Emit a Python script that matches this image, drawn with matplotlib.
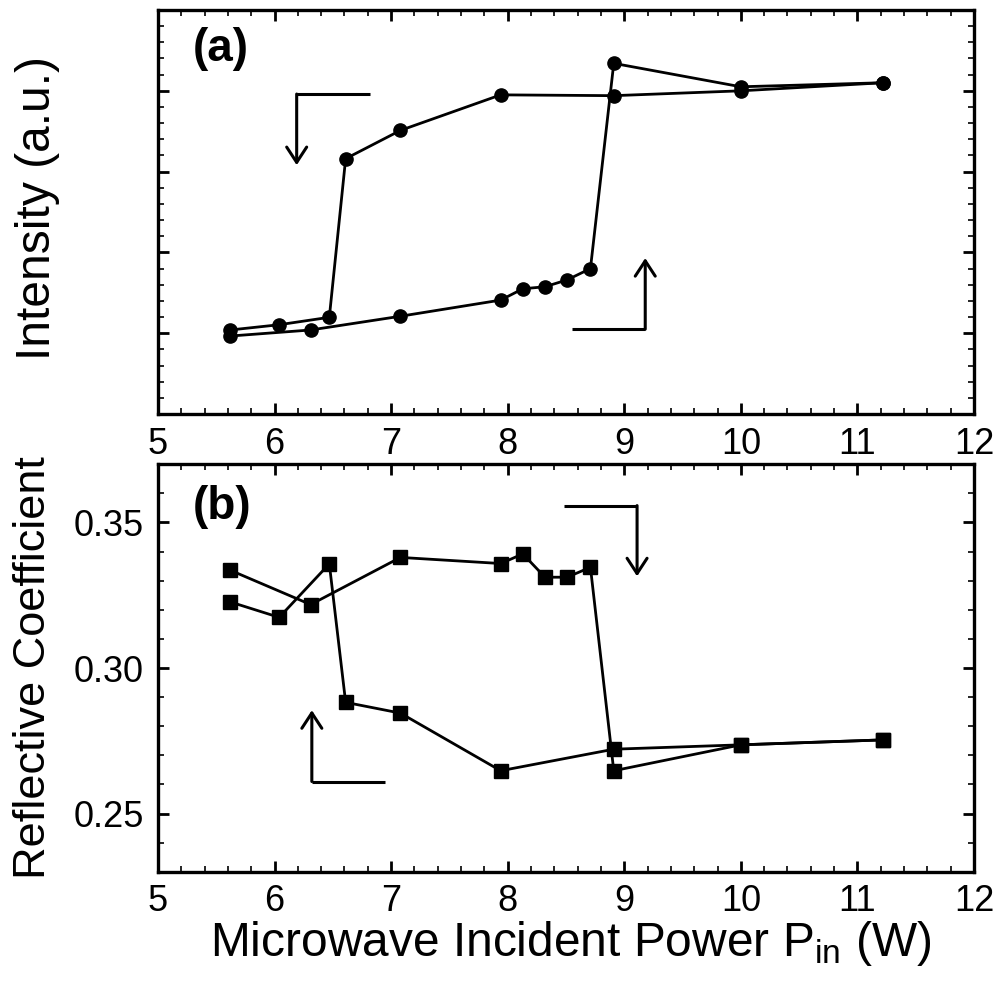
import matplotlib
matplotlib.use("Agg")
import matplotlib.pyplot as plt
from matplotlib.ticker import MultipleLocator

plt.rcParams['font.family'] = ['Liberation Sans', 'DejaVu Sans']
plt.rcParams['mathtext.default'] = 'regular'

# ---- data ----
power_up = [5.62, 6.31, 7.08, 7.94, 8.13, 8.32, 8.51, 8.71, 8.91, 10.0, 11.22]
power_down = [11.22, 10.0, 8.91, 7.94, 7.08, 6.61, 6.47, 6.04, 5.62]

intensity_up = [0.965, 1.04, 1.21, 1.41, 1.55, 1.575, 1.66, 1.80, 4.34, 4.05, 4.10]
intensity_down = [4.10, 4.00, 3.94, 3.95, 3.51, 3.16, 1.197, 1.105, 1.04]

refl_up = [0.3336, 0.3218, 0.3380, 0.3359, 0.3392, 0.3312, 0.3312, 0.3346, 0.2647, 0.2736, 0.2753]
refl_down = [0.2753, 0.2736, 0.2721, 0.2647, 0.2845, 0.2882, 0.3358, 0.3174, 0.3227]

x_ticks = [5, 6, 7, 8, 9, 10, 11, 12]
refl_ticks = [0.25, 0.30, 0.35]
refl_tick_labels = ['0.25', '0.30', '0.35']

# direction arrows: (start of horizontal leg, corner, tip) in data coords
arrows_a = [((6.82, 3.96), (6.19, 3.96), (6.19, 3.08)),
            ((8.55, 1.05), (9.18, 1.05), (9.18, 1.93))]
arrows_b = [((8.48, 0.3558), (9.11, 0.3558), (9.11, 0.3315)),
            ((6.945, 0.2610), (6.32, 0.2610), (6.32, 0.2855))]

fig = plt.figure(figsize=(10.01, 9.82), dpi=100)
ax1 = fig.add_axes([0.1578, 0.5784, 0.8152, 0.4114])
ax2 = fig.add_axes([0.1578, 0.1123, 0.8152, 0.4149])

lw = 2.0
for ax in (ax1, ax2):
    for s in ax.spines.values():
        s.set_linewidth(2.4)
    ax.set_xlim(5, 12)
    ax.set_xticks(x_ticks)
    ax.xaxis.set_minor_locator(MultipleLocator(0.2))
    ax.tick_params(which='both', direction='in', top=True, right=True)
    ax.tick_params(which='major', length=8, width=2.0, labelsize=26, pad=9)
    ax.tick_params(which='minor', length=4, width=1.2)

ax1.plot(power_up, intensity_up, '-o', color='black', lw=lw, ms=9.5)
ax1.plot(power_down, intensity_down, '-o', color='black', lw=lw, ms=9.5)
ax1.set_ylim(0, 5)
ax1.yaxis.set_major_locator(MultipleLocator(1))
ax1.yaxis.set_minor_locator(MultipleLocator(0.2))
ax1.tick_params(axis='y', labelleft=False)

ax2.plot(power_up, refl_up, '-s', color='black', lw=lw, ms=9.5)
ax2.plot(power_down, refl_down, '-s', color='black', lw=lw, ms=9.5)
ax2.set_ylim(0.23, 0.37)
ax2.set_yticks(refl_ticks)
ax2.set_yticklabels(refl_tick_labels)
ax2.yaxis.set_minor_locator(MultipleLocator(0.01))
ax2.tick_params(axis='y', pad=10)

def draw_arrows(ax, arrows):
    for start, corner, tip in arrows:
        ax.plot([start[0], corner[0]], [start[1], corner[1]], color='black', lw=2.2,
                solid_capstyle='butt')
        ax.annotate('', xy=tip, xytext=corner,
                    arrowprops=dict(arrowstyle='->,head_length=0.55,head_width=0.36',
                                    lw=2.2, color='black', shrinkA=0, shrinkB=0,
                                    mutation_scale=20))

draw_arrows(ax1, arrows_a)
draw_arrows(ax2, arrows_b)

ax1.text(0.043, 0.957, '(a)', transform=ax1.transAxes, fontsize=33,
         fontweight='bold', ha='left', va='top')
ax2.text(0.043, 0.950, '(b)', transform=ax2.transAxes, fontsize=33,
         fontweight='bold', ha='left', va='top')

fig.text(0.037, 0.5784 + 0.4114 / 2 + 0.004, 'Intensity (a.u.)', rotation=90,
         ha='center', va='center', fontsize=34.5)
fig.text(0.033, 0.1123 + 0.4149 / 2, 'Reflective Coefficient', rotation=90,
         ha='center', va='center', fontsize=32.5)
ax2.set_xlabel('Microwave Incident Power P$_{in}$ (W)', fontsize=34.5)
ax2.xaxis.set_label_coords(0.5055, -0.115)

fig.savefig('out.png', dpi=100)
